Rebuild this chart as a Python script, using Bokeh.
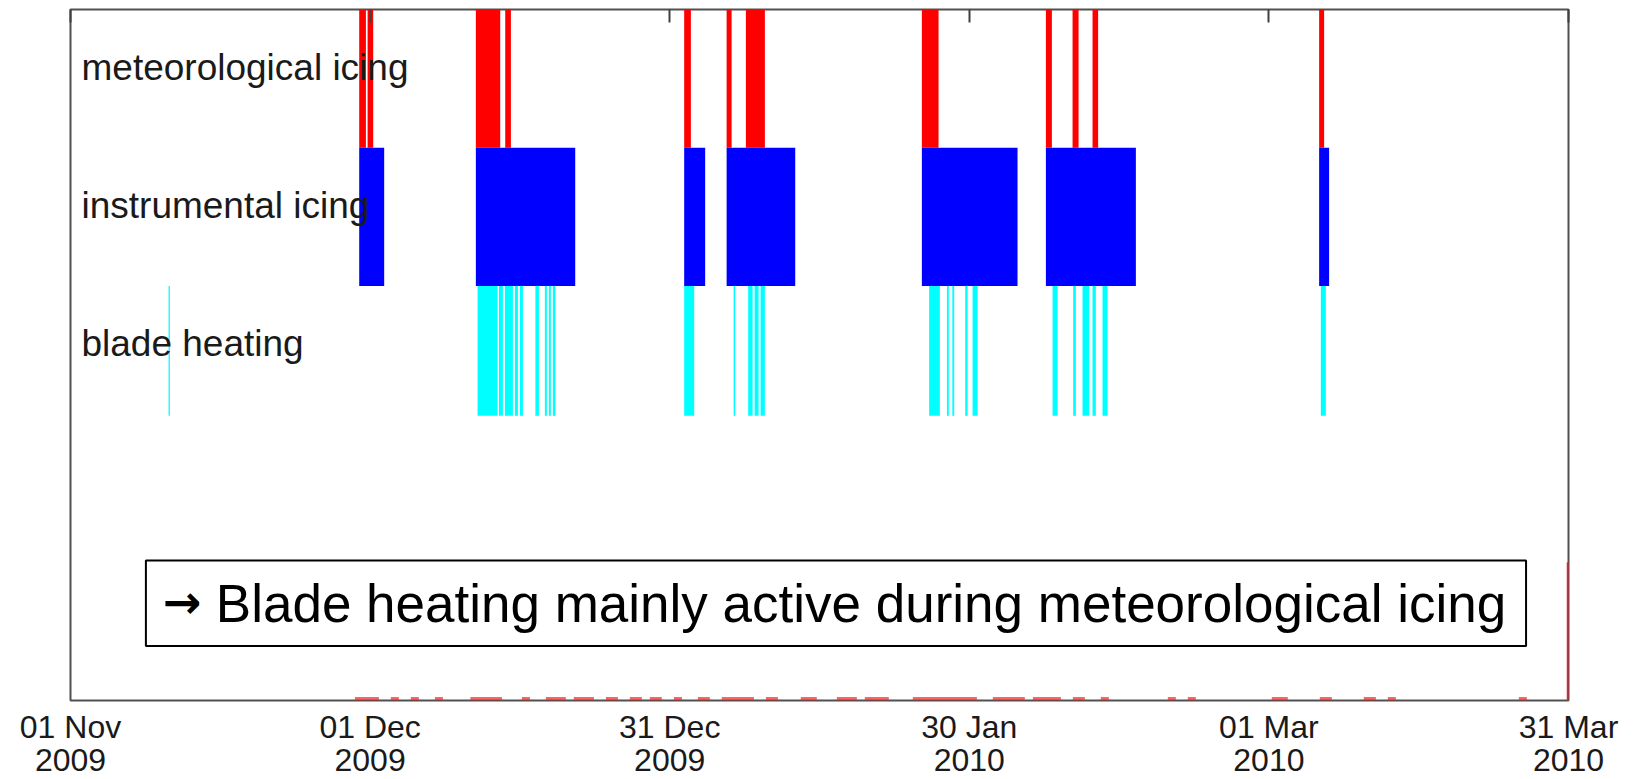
import pandas as pd
from bokeh.plotting import figure
from bokeh.models import (Range1d, FixedTicker, DatetimeTickFormatter, DatetimeAxis,
                          Label, ColumnDataSource, CustomJSTickFormatter, BoxAnnotation)
from bokeh.embed import file_html
from bokeh.resources import INLINE

# ---------------- data ----------------
START = "2009-11-01"
END = "2010-03-31"
tick_dates = ["2009-11-01", "2009-12-01", "2009-12-31", "2010-01-30", "2010-03-01", "2010-03-31"]

row_labels = ["meteorological icing", "instrumental icing", "blade heating"]
band_bottom = [4.0, 3.0, 2.06]
band_top = [5.0, 4.0, 3.0]

# event periods, in days since START
met_start = [28.91, 29.75, 40.59, 43.53, 61.45, 65.70, 67.63, 85.25, 97.67, 100.34, 102.34, 125.03]
met_end   = [29.58, 30.31, 43.03, 44.10, 62.12, 66.20, 69.53, 86.92, 98.27, 100.94, 102.90, 125.53]

inst_start = [28.91, 40.59, 61.45, 65.70, 85.25, 97.67, 125.03]
inst_end   = [31.41, 50.54, 63.55, 72.57, 94.83, 106.68, 126.03]

heat_start = [9.82, 40.76, 42.90, 43.50, 44.50, 45.00, 46.55, 47.50, 47.90, 48.30,
              61.45, 66.40, 67.86, 68.50, 69.10, 85.98, 87.76, 88.30, 89.59, 90.33,
              98.34, 100.40, 101.34, 102.34, 103.34, 125.20]
heat_end   = [9.95, 42.76, 43.30, 44.30, 44.80, 45.30, 46.90, 47.70, 48.10, 48.55,
              62.45, 66.55, 68.30, 68.90, 69.53, 87.05, 87.95, 88.49, 89.83, 90.83,
              98.84, 100.67, 102.00, 102.67, 103.84, 125.70]

# faint red marks along the baseline (meteorological icing signal at 0)
base_start = [28.48, 32.08, 34.08, 36.49, 40.04, 45.20, 47.60, 50.40, 53.61, 56.01,
              58.01, 60.42, 62.82, 65.22, 69.63, 73.13, 76.74, 79.54, 84.35, 92.36,
              96.37, 100.37, 103.17, 109.88, 111.88, 120.29, 125.10, 129.50, 131.91, 145.03]
base_end   = [30.88, 32.88, 34.88, 37.29, 43.20, 46.00, 49.60, 52.41, 54.81, 57.21,
              59.21, 61.22, 64.02, 68.43, 70.83, 74.73, 78.74, 81.94, 90.76, 95.56,
              99.17, 101.57, 103.97, 110.68, 112.68, 121.89, 126.30, 130.71, 132.71, 145.83]
base_level = 0.025
edge_level = 1.0

note_arrow = "\u2192"
note_text = "Blade heating mainly active during meteorological icing"

# ---------------- helpers ----------------
t0 = pd.Timestamp(START)
t1 = pd.Timestamp(END)


def to_dt(days):
    return pd.Series([t0 + pd.Timedelta(days=d) for d in days])


def ms(ts):
    return pd.Timestamp(ts).value / 1e6


def day_ms(d):
    return ms(t0 + pd.Timedelta(days=d))


p = figure(x_axis_type="datetime", frame_width=1498, frame_height=691,
           min_border_left=70, min_border_right=75, min_border_top=9, min_border_bottom=79,
           x_range=Range1d(ms(t0), ms(t1)), y_range=Range1d(0, 5),
           output_backend="svg", toolbar_location=None)
p.background_fill_color = "white"
p.border_fill_color = "white"
p.grid.visible = False
p.yaxis.visible = False
p.outline_line_color = "#505050"
p.outline_line_width = 2

# meteorological icing
src_met = ColumnDataSource(dict(left=to_dt(met_start), right=to_dt(met_end)))
p.quad(left="left", right="right", bottom=band_bottom[0], top=band_top[0], source=src_met,
       fill_color="#ff0000", line_color=None)

# instrumental icing
src_inst = ColumnDataSource(dict(left=to_dt(inst_start), right=to_dt(inst_end)))
p.quad(left="left", right="right", bottom=band_bottom[1], top=band_top[1], source=src_inst,
       fill_color="#0000ff", line_color=None)

# blade heating
src_heat = ColumnDataSource(dict(left=to_dt(heat_start), right=to_dt(heat_end)))
p.quad(left="left", right="right", bottom=band_bottom[2], top=band_top[2], source=src_heat,
       fill_color="#00ffff", line_color=None)

# baseline marks
src_base = ColumnDataSource(dict(left=to_dt(base_start), right=to_dt(base_end)))
p.quad(left="left", right="right", bottom=0, top=base_level, source=src_base,
       fill_color="#ff2020", line_color=None, fill_alpha=0.7)
p.segment(x0=[t1], y0=[0], x1=[t1], y1=[edge_level], line_color="#e8203a", line_width=3.5)

# axes
ticks = [ms(d) for d in tick_dates]
fmt = "%d %b\n%Y"
xa = p.xaxis[0]
xa.ticker = FixedTicker(ticks=ticks)
xa.formatter = DatetimeTickFormatter(days=fmt, months=fmt, years=fmt, hours=fmt,
                                     hourmin=fmt, minutes=fmt, minsec=fmt, seconds=fmt,
                                     milliseconds=fmt, microseconds=fmt)
xa.axis_line_color = None
xa.major_tick_in = 0
xa.major_tick_out = 0
xa.minor_tick_in = 0
xa.minor_tick_out = 0
xa.major_label_text_font = "Liberation Sans"
xa.major_label_text_font_size = "32px"
xa.major_label_text_line_height = 0.92
xa.major_label_text_color = "#1a1a1a"
xa.major_label_standoff = 8

top = DatetimeAxis(ticker=FixedTicker(ticks=ticks), axis_line_color=None,
                   formatter=CustomJSTickFormatter(code="return ''"),
                   major_tick_in=13, major_tick_out=0, minor_tick_in=0, minor_tick_out=0,
                   major_tick_line_color="#404040", major_tick_line_width=2,
                   major_label_standoff=0)
p.add_layout(top, "above")

# row labels
label_y = [4.58, 3.58, 2.58]
for txt, yy in zip(row_labels, label_y):
    p.add_layout(Label(x=day_ms(1.1), y=yy, text=txt,
                       text_font="Liberation Sans", text_font_size="37px",
                       text_baseline="middle", text_align="left", text_color="#1a1a1a"))

# note box
p.add_layout(BoxAnnotation(left=day_ms(7.55), right=day_ms(145.75), bottom=0.395, top=1.013,
                           fill_color="white", fill_alpha=1.0, line_color="black",
                           line_width=2, line_alpha=1.0))
p.add_layout(Label(x=day_ms(9.25), y=0.712, text=note_arrow,
                   text_font="DejaVu Sans", text_font_size="46px", text_font_style="bold",
                   text_baseline="middle", text_align="left", text_color="black"))
p.add_layout(Label(x=day_ms(14.55), y=0.705, text=note_text,
                   text_font="Liberation Sans", text_font_size="53px",
                   text_baseline="middle", text_align="left", text_color="black"))

open("out.html", "w").write(file_html(p, INLINE))
